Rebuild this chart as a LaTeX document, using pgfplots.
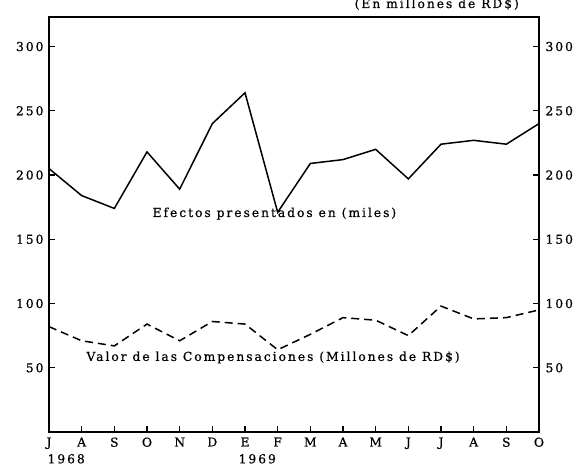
\documentclass[border=0pt]{standalone}
\usepackage{fontspec}
\setmainfont[LetterSpace=16,FakeBold=0.6]{DejaVu Serif}
\usepackage{pgfplots}
\usepackage{pgfplotstable}
\pgfplotsset{compat=1.18}
\pgfplotstableread{
x ef val
0 205 82
1 184 71
2 174 67
3 218 84
4 189 71
5 240 86
6 264 84
7 171 64
8 209 76
9 212 89
10 220 87
11 197 75
12 224 98
13 227 88
14 224 89
15 240 95
}\data
\begin{document}
\begin{tikzpicture}
\useasboundingbox (-49pt,-38pt) rectangle (535pt,432pt);
\pgfplotsset{every axis/.append style={
  at={(0,0)}, anchor=south west,
  scale only axis, width=490pt, height=415pt,
  xmin=0, xmax=15, ymin=0, ymax=323,
  font=\fontsize{12.3}{14}\selectfont,
  /pgf/number format/assume math mode=true,
  ytick={50,100,...,300},
  tick align=inside, major tick length=6pt,
  tick style={line width=1.4pt, black},
  axis line style={line width=1.5pt},
}}
\begin{axis}[
  xtick={0,...,15},
  xticklabels={J,A,S,O,N,D,E,F,M,A,M,J,J,A,S,O},
  xtick pos=bottom,
  ytick pos=both, yticklabel pos=left,
  yticklabel style={xshift=-2pt},
  xticklabel style={yshift=-2pt},
  clip=false,
]
\addplot[black, line width=1.5pt] table[x=x,y=ef] {\data};
\addplot[black, line width=1.5pt, dash pattern=on 8pt off 5pt] table[x=x,y=val] {\data};
\node at (axis cs:6.9,170) {Efectos presentados en (miles)};
\node at (axis cs:6.86,58) {Valor de las Compensaciones (Millones de RD\$)};
\node[anchor=north west, inner sep=0pt] at (axis cs:-0.05,0) [yshift=-22pt] {1968};
\node[anchor=north west, inner sep=0pt] at (axis cs:5.8,0) [yshift=-22pt] {1969};
\node[anchor=base, inner sep=0pt] at (axis cs:11.87,323) [yshift=9pt] {(En millones de RD\$)};
\end{axis}
\begin{axis}[
  hide x axis,
  axis x line=none,
  axis y line*=right,
  ytick pos=right, yticklabel pos=right,
  major tick length=0pt,
  y axis line style={draw=none},
  yticklabel style={xshift=3pt},
]
\end{axis}
\end{tikzpicture}
\end{document}
